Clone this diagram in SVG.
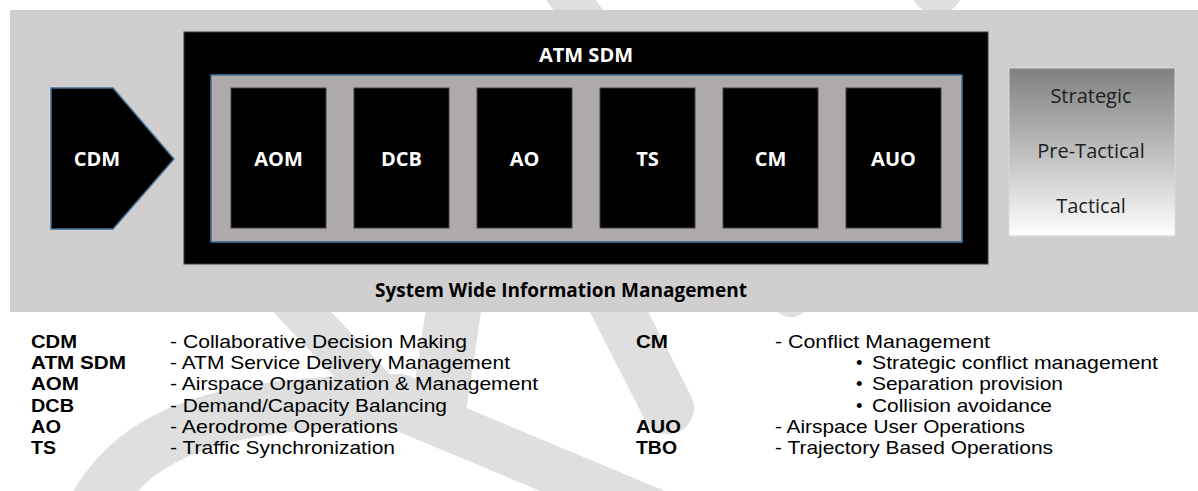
<svg xmlns="http://www.w3.org/2000/svg" width="1198" height="491" viewBox="0 0 1198 491">
  <defs>
    <linearGradient id="tfGrad" x1="0" y1="0" x2="0" y2="1">
      <stop offset="0" stop-color="#808080"/>
      <stop offset="0.55" stop-color="#c4c4c4"/>
      <stop offset="1" stop-color="#ffffff"/>
    </linearGradient>
    <style>
      .wm { fill: none; stroke: #dfdfdf; stroke-linecap: round; }
      .box { fill: #000000; stroke: #404040; stroke-width: 1; }
      .lbl { font-family: "Open Sans", "Noto Sans", sans-serif; font-weight: bold; font-size: 20px; fill: #ffffff; text-anchor: middle; }
      .tf { font-family: "Open Sans", "Noto Sans", sans-serif; font-size: 20px; fill: #1e1e1e; text-anchor: middle; }
      .abbr { font-family: "Liberation Sans", Arial, sans-serif; font-weight: bold; font-size: 18.5px; fill: #000000; }
      .desc { font-family: "Liberation Sans", Arial, sans-serif; font-size: 18.5px; fill: #000000; }
    </style>
  </defs>

  <rect x="0" y="0" width="1198" height="491" fill="#ffffff"/>

  <g id="watermark">
    <line class="wm" x1="556" y1="-20" x2="791" y2="297" stroke-width="40"/>
    <line class="wm" x1="937" y1="-60" x2="937" y2="-12" stroke-width="52"/>
    <line class="wm" x1="272" y1="280" x2="395" y2="410" stroke-width="42"/>
    <path class="wm" d="M 95 505 C 140 430 220 402 400 400" stroke-width="52"/>
    <line class="wm" x1="380" y1="398" x2="660" y2="515" stroke-width="48"/>
    <line class="wm" x1="455" y1="300" x2="440" y2="400" stroke-width="55"/>
    <line class="wm" x1="590" y1="255" x2="668" y2="408" stroke-width="52"/>
  </g>

  <g id="swim-background">
    <rect x="10" y="10" width="1188" height="302" fill="#d0cece"/>
    <text x="561" y="297" font-family="Open Sans, Noto Sans, sans-serif" font-weight="bold" font-size="19" fill="#000000" text-anchor="middle">System Wide Information Management</text>
  </g>

  <g id="atm-sdm">
    <rect x="184" y="32" width="804" height="232" fill="#000000" stroke="#3a3a3a" stroke-width="1"/>
    <text class="lbl" x="586" y="62">ATM SDM</text>
    <rect x="211" y="75" width="751" height="167" fill="#aeaaaa" stroke="#41719c" stroke-width="1.5"/>
  </g>

  <g id="node-cdm">
    <polygon points="51,88 113,88 174,159 113,229 51,229" fill="#000000" stroke="#41719c" stroke-width="1.5"/>
    <text class="lbl" x="97" y="166">CDM</text>
  </g>

  <g id="node-aom">
    <rect class="box" x="231" y="88" width="95" height="140"/>
    <text class="lbl" x="278.5" y="166">AOM</text>
  </g>
  <g id="node-dcb">
    <rect class="box" x="354" y="88" width="95" height="140"/>
    <text class="lbl" x="401.5" y="166">DCB</text>
  </g>
  <g id="node-ao">
    <rect class="box" x="477" y="88" width="95" height="140"/>
    <text class="lbl" x="524.5" y="166">AO</text>
  </g>
  <g id="node-ts">
    <rect class="box" x="600" y="88" width="95" height="140"/>
    <text class="lbl" x="647.5" y="166">TS</text>
  </g>
  <g id="node-cm">
    <rect class="box" x="723" y="88" width="95" height="140"/>
    <text class="lbl" x="770.5" y="166">CM</text>
  </g>
  <g id="node-auo">
    <rect class="box" x="846" y="88" width="95" height="140"/>
    <text class="lbl" x="893.5" y="166">AUO</text>
  </g>

  <g id="node-timeframes">
    <rect x="1009" y="68" width="166" height="168" fill="url(#tfGrad)" stroke="#d9d9d9" stroke-width="1"/>
    <text class="tf" x="1091" y="103">Strategic</text>
    <text class="tf" x="1091" y="158">Pre-Tactical</text>
    <text class="tf" x="1091" y="213">Tactical</text>
  </g>

  <g id="connectors"></g>

  <g id="legend">
    <text class="abbr" x="31" y="348" textLength="46" lengthAdjust="spacingAndGlyphs">CDM</text>
    <text class="desc" x="170" y="348" textLength="297" lengthAdjust="spacingAndGlyphs">- Collaborative Decision Making</text>
    <text class="abbr" x="31" y="369.2" textLength="95" lengthAdjust="spacingAndGlyphs">ATM SDM</text>
    <text class="desc" x="170" y="369.2" textLength="340" lengthAdjust="spacingAndGlyphs">- ATM Service Delivery Management</text>
    <text class="abbr" x="31" y="390.4" textLength="48" lengthAdjust="spacingAndGlyphs">AOM</text>
    <text class="desc" x="170" y="390.4" textLength="368" lengthAdjust="spacingAndGlyphs">- Airspace Organization &amp; Management</text>
    <text class="abbr" x="31" y="411.6" textLength="43" lengthAdjust="spacingAndGlyphs">DCB</text>
    <text class="desc" x="170" y="411.6" textLength="277" lengthAdjust="spacingAndGlyphs">- Demand/Capacity Balancing</text>
    <text class="abbr" x="31" y="432.8" textLength="30" lengthAdjust="spacingAndGlyphs">AO</text>
    <text class="desc" x="170" y="432.8" textLength="228" lengthAdjust="spacingAndGlyphs">- Aerodrome Operations</text>
    <text class="abbr" x="31" y="454" textLength="25" lengthAdjust="spacingAndGlyphs">TS</text>
    <text class="desc" x="170" y="454" textLength="225" lengthAdjust="spacingAndGlyphs">- Traffic Synchronization</text>

    <text class="abbr" x="636" y="348" textLength="32" lengthAdjust="spacingAndGlyphs">CM</text>
    <text class="desc" x="775" y="348" textLength="215" lengthAdjust="spacingAndGlyphs">- Conflict Management</text>
    <text class="desc" x="856" y="369.2">•</text>
    <text class="desc" x="872" y="369.2" textLength="286" lengthAdjust="spacingAndGlyphs">Strategic conflict management</text>
    <text class="desc" x="856" y="390.4">•</text>
    <text class="desc" x="872" y="390.4" textLength="191" lengthAdjust="spacingAndGlyphs">Separation provision</text>
    <text class="desc" x="856" y="411.6">•</text>
    <text class="desc" x="872" y="411.6" textLength="180" lengthAdjust="spacingAndGlyphs">Collision avoidance</text>
    <text class="abbr" x="636" y="432.8" textLength="45" lengthAdjust="spacingAndGlyphs">AUO</text>
    <text class="desc" x="775" y="432.8" textLength="250" lengthAdjust="spacingAndGlyphs">- Airspace User Operations</text>
    <text class="abbr" x="636" y="454" textLength="41" lengthAdjust="spacingAndGlyphs">TBO</text>
    <text class="desc" x="775" y="454" textLength="278" lengthAdjust="spacingAndGlyphs">- Trajectory Based Operations</text>
  </g>
</svg>
